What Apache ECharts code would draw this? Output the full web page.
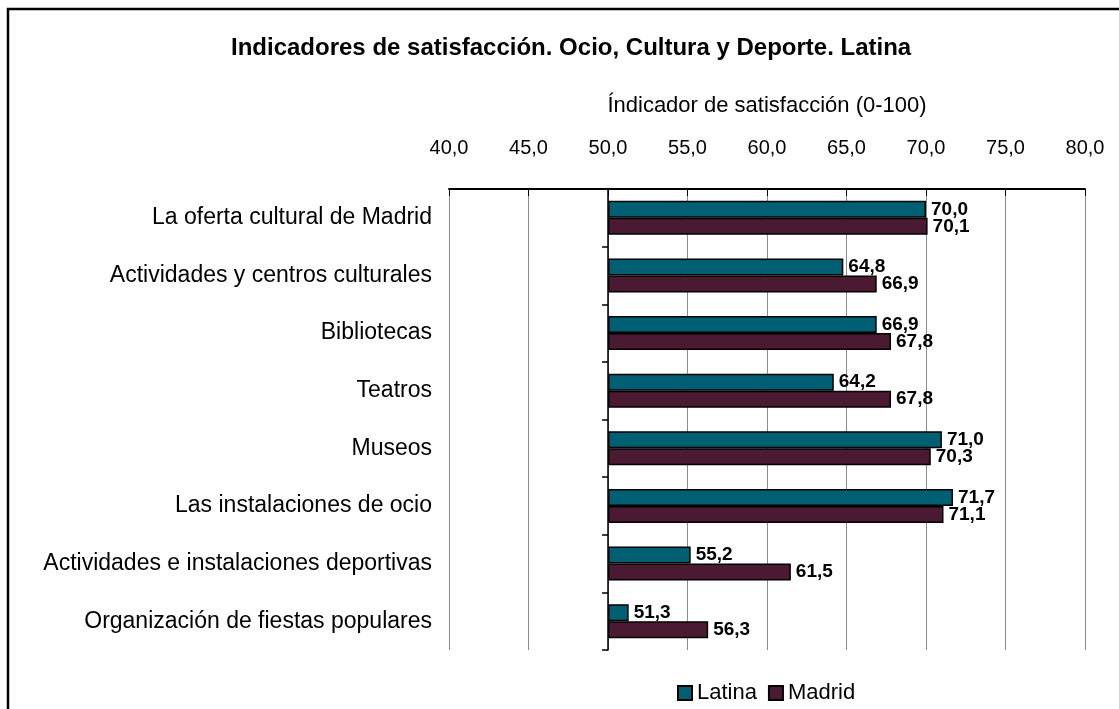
<!DOCTYPE html>
<html>
<head>
<meta charset="utf-8">
<script src="https://cdn.jsdelivr.net/npm/echarts@6/dist/echarts.min.js"></script>
<style>html,body{margin:0;padding:0;background:#fff;}#c{width:1119px;height:709px;}</style>
</head>
<body>
<div id="c"></div>
<script>
const categories = [
  'La oferta cultural de Madrid',
  'Actividades y centros culturales',
  'Bibliotecas',
  'Teatros',
  'Museos',
  'Las instalaciones de ocio',
  'Actividades e instalaciones deportivas',
  'Organización de fiestas populares'
];
const latina = [70.0, 64.8, 66.9, 64.2, 71.0, 71.7, 55.2, 51.3];
const madrid = [70.1, 66.9, 67.8, 67.8, 70.3, 71.1, 61.5, 56.3];
const seriesNames = ['Latina', 'Madrid'];
const barBase = 50;
const axisMin = 40, axisMax = 80, axisStep = 5;
const titleText = 'Indicadores de satisfacción. Ocio, Cultura y Deporte. Latina';
const axisTitle = 'Índicador de satisfacción (0-100)';

const fmt = v => v.toFixed(1).replace('.', ',');
const FONT = '"Liberation Sans", Arial, sans-serif';
const colors = ['#005F73', '#4A1A33'];

const chart = echarts.init(document.getElementById('c'), null, {renderer: 'canvas'});
const gridLeft = 449, gridRight = 34, gridWidth = 1119 - gridLeft - gridRight;

function makeSeries(name, vals, stack, color) {
  return [
    {
      name: name + '_base', type: 'bar', stack: stack, silent: true,
      data: vals.map(() => barBase), barWidth: 17,
      itemStyle: {color: 'transparent'}, label: {show: false}
    },
    {
      name: name, type: 'bar', stack: stack, barWidth: 17, barGap: '0%',
      data: vals.map(v => v - barBase),
      itemStyle: {color: color, borderColor: '#000', borderWidth: 1.5},
      label: {
        show: true, position: 'right', distance: 5,
        fontFamily: FONT, fontSize: 19, fontWeight: 'bold', color: '#000',
        formatter: p => fmt(vals[p.dataIndex])
      }
    }
  ];
}

chart.setOption({
  animation: false,
  backgroundColor: '#fff',
  textStyle: {fontFamily: FONT},
  title: {
    text: titleText, left: 226, top: 31,
    textStyle: {fontFamily: FONT, fontSize: 24, fontWeight: 'bold', color: '#000'}
  },
  legend: {
    data: seriesNames, left: 672, top: 677, itemWidth: 14, itemHeight: 14, itemGap: 11,
    icon: 'rect',
    textStyle: {fontFamily: FONT, fontSize: 22, color: '#000'}
  },
  grid: {left: gridLeft, right: gridRight, top: 189, bottom: 59},
  xAxis: {
    type: 'value', position: 'top', min: axisMin, max: axisMax, interval: axisStep,
    name: axisTitle, nameLocation: 'middle', nameGap: 72,
    nameTextStyle: {fontFamily: FONT, fontSize: 22, color: '#000'},
    axisLine: {show: true, lineStyle: {color: '#000', width: 2}},
    axisTick: {show: true, inside: true, length: 7, lineStyle: {color: '#000', width: 1}},
    axisLabel: {fontFamily: FONT, fontSize: 20, color: '#000', margin: 31, formatter: v => fmt(v)},
    splitLine: {show: true, lineStyle: {color: '#8c8c8c', width: 1}}
  },
  yAxis: [
    {
      type: 'category', inverse: true, data: categories,
      axisLine: {show: false}, axisTick: {show: false},
      axisLabel: {fontFamily: FONT, fontSize: 23, color: '#000', margin: 17}
    },
    {
      type: 'category', inverse: true, data: categories, position: 'left',
      offset: -gridWidth * (barBase - axisMin) / (axisMax - axisMin),
      axisLine: {show: true, lineStyle: {color: '#000', width: 1.5}},
      axisTick: {show: true, length: 6, lineStyle: {color: '#000', width: 1.5}},
      axisLabel: {show: false}
    }
  ],
  graphic: [{
    type: 'rect', shape: {x: 8, y: 9, width: 1125, height: 720},
    style: {fill: 'none', stroke: '#000', lineWidth: 2.5}, silent: true, z: 100
  }],
  series: [
    ...makeSeries(seriesNames[0], latina, 'L', colors[0]),
    ...makeSeries(seriesNames[1], madrid, 'M', colors[1])
  ]
});
</script>
</body>
</html>
